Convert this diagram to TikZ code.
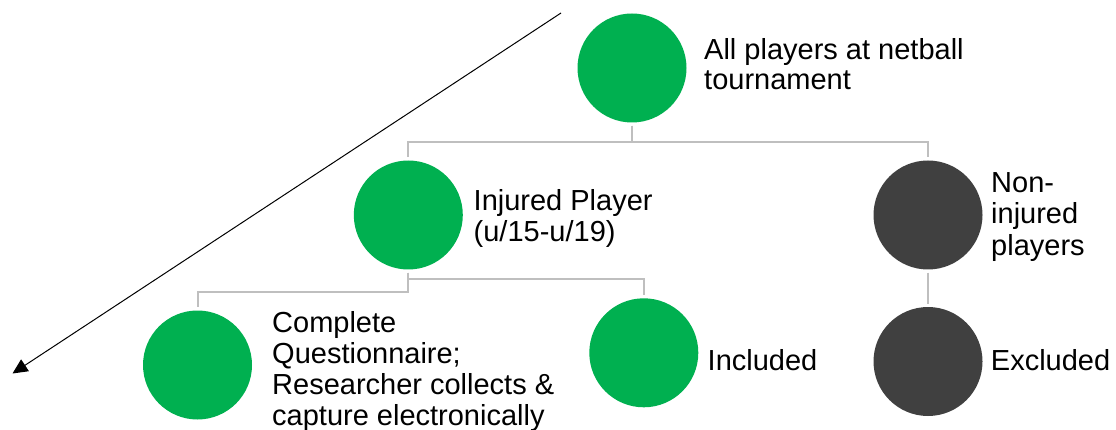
\documentclass[tikz,border=0pt]{standalone}
\usepackage{fontspec}
\setmainfont{Liberation Sans}
\usetikzlibrary{arrows.meta}

\definecolor{okgreen}{RGB}{0,176,80}
\definecolor{outgray}{RGB}{64,64,64}
\definecolor{linkgray}{RGB}{191,191,191}

\tikzset{
  blob/.style={circle, minimum size=109pt, inner sep=0pt, draw=none},
  txt/.style={anchor=west, align=left, inner sep=0pt,
    font=\fontsize{29}{30}\selectfont},
  link/.style={draw=linkgray, line width=2pt, shorten <=3pt, shorten >=3pt},
}

\begin{document}
\begin{tikzpicture}
  \useasboundingbox (0pt,0pt) rectangle (1116pt,-430pt);

  %% circles
  \node[blob, fill=okgreen] (all)  at (632pt,-68pt) {};
  \node[blob, fill=okgreen] (inj)  at (408.3pt,-215pt) {};
  \node[blob, fill=outgray] (non)  at (928pt,-215pt) {};
  \node[blob, fill=okgreen] (comp) at (197.5pt,-365pt) {};
  \node[blob, fill=okgreen] (incl) at (643.8pt,-352.8pt) {};
  \node[blob, fill=outgray] (excl) at (928pt,-361.5pt) {};

  %% texts
  \node[txt] (allT)  at (704pt,-68pt)
  {\strut All players at netball\\\strut tournament};
  \node[txt] (injT)  at (473.5pt,-220pt)
  {\strut Injured Player\\\strut (u/15-u/19)};
  \node[txt] (nonT)  at (991pt,-218pt)
  {\strut Non-\\\strut injured\\\strut players};
  \node[txt] (compT) at (272pt,-373pt)
  {\strut Complete\\\strut Questionnaire;\\\strut Researcher collects \&\\\strut capture electronically};
  \node[txt] (inclT) at (707.5pt,-364pt) {\strut Included};
  \node[txt] (exclT) at (990.7pt,-364.7pt) {\strut Excluded};

  %% links
  \draw[link] (all.south) -- ++(0pt,-19.8pt) -| (inj.north);
  \draw[link] (all.south) -- ++(0pt,-19.8pt) -| (non.north);
  \draw[link] (inj.south) -- ++(0pt,-9.8pt) -| (incl.north);
  \draw[link] (inj.south) -- ++(0pt,-22.2pt) -| (comp.north);
  \draw[link] (non.south) -- (excl.north);

  %% arrow
  \coordinate (arrFrom) at (561pt,-13pt);
  \coordinate (arrTo) at (12.5pt,-373.5pt);
  \draw[-{Triangle[length=15pt,width=14pt]}, line width=1pt] (arrFrom) -- (arrTo);
\end{tikzpicture}
\end{document}
